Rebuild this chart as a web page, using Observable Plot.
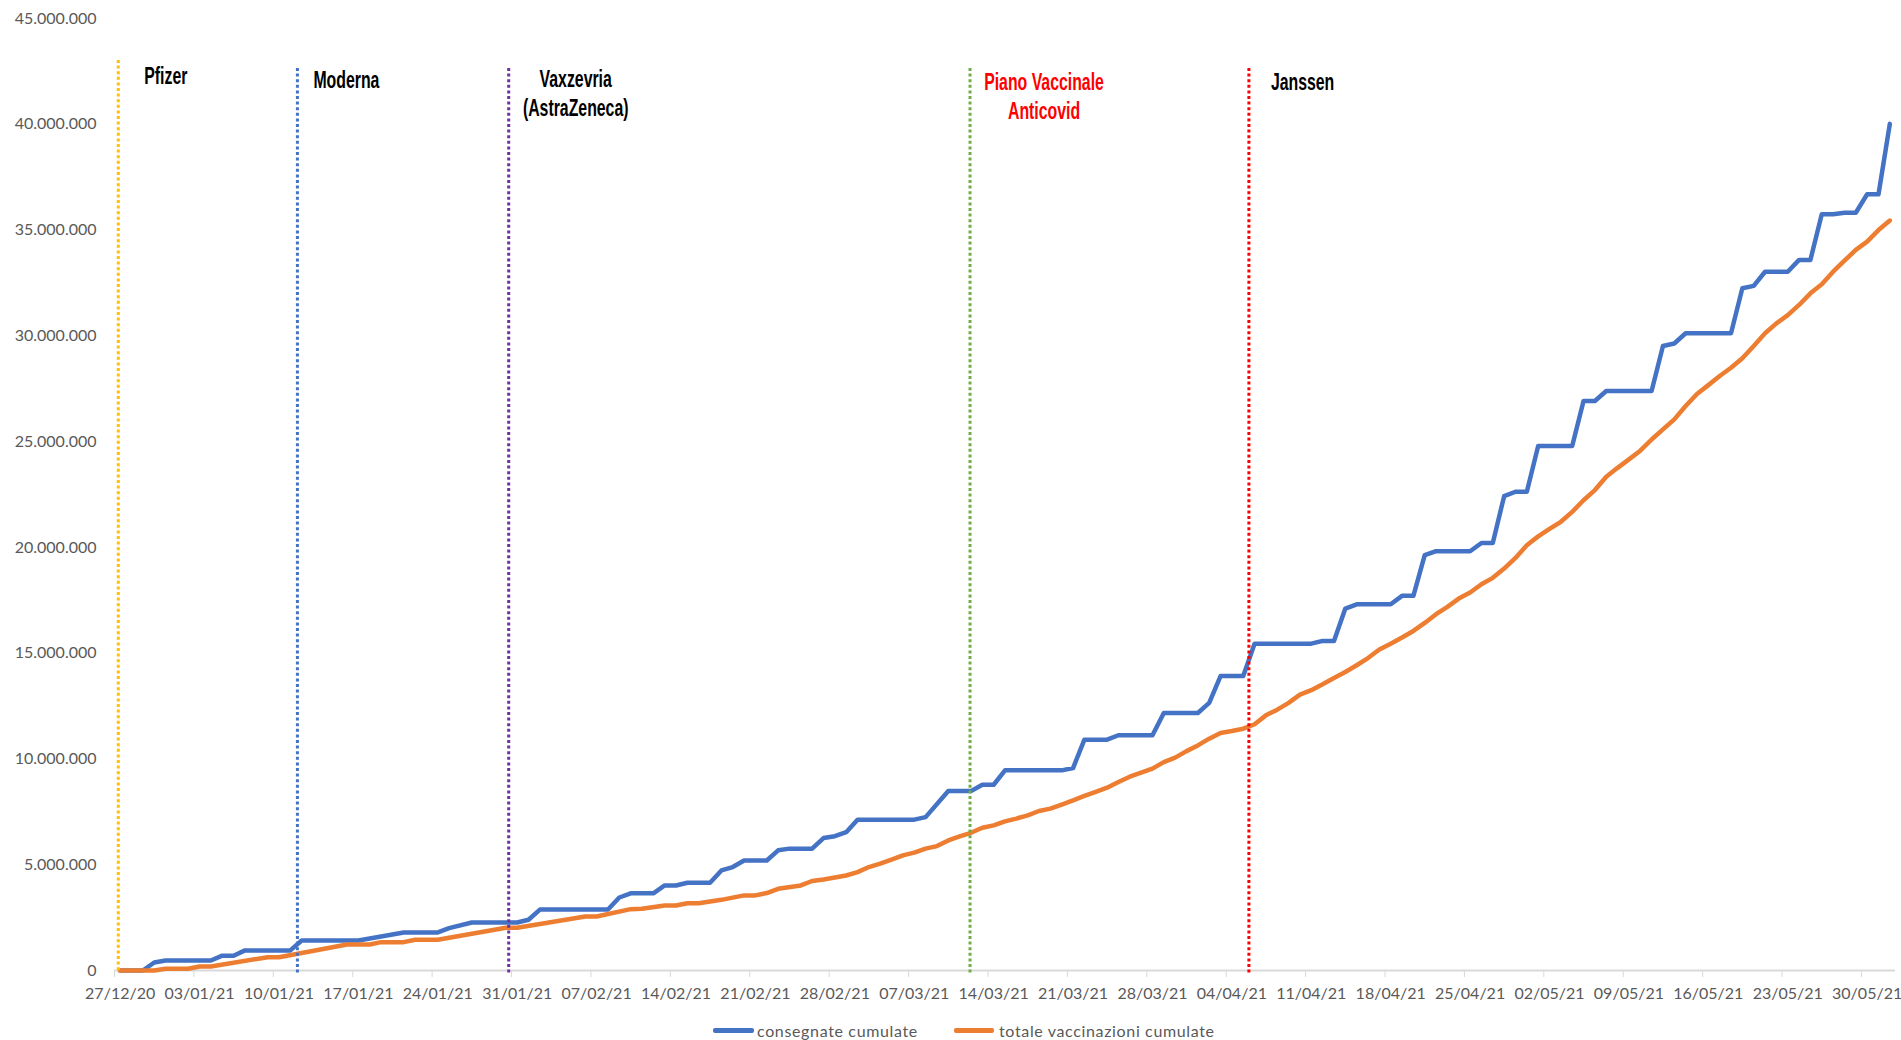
<!DOCTYPE html>
<html>
<head>
<meta charset="utf-8">
<script src="https://cdn.jsdelivr.net/npm/d3@7"></script>
<script src="https://cdn.jsdelivr.net/npm/@observablehq/plot@0.6"></script>
<style>
html, body { margin: 0; padding: 0; background: #fff; }
#chart svg [aria-label^="x-axis"] { color: #D9D9D9; }
.legend { display: flex; align-items: center; height: 20px; margin-top: 8px; padding-left: 713px;
  font-family: Lato, "Open Sans", sans-serif; font-size: 16px; letter-spacing: 0.65px; color: #595959; white-space: nowrap; }
.sw { display: inline-block; height: 5px; border-radius: 2px; }
</style>
</head>
<body>
<div id="chart"></div>
<div class="legend">
  <span class="sw" style="width:41px;background:#4472C4;margin-right:3px"></span><span>consegnate cumulate</span>
  <span class="sw" style="width:40px;background:#ED7D31;margin-left:36px;margin-right:5px"></span><span>totale vaccinazioni cumulate</span>
</div>
<script>
// ---------- DATA ----------
// Consegne cumulate (milioni di dosi)
const delivDates = [
  "27/12/20","29/12/20","30/12/20","31/12/20","04/01/21","05/01/21","06/01/21","07/01/21","11/01/21","12/01/21",
  "17/01/21","21/01/21","24/01/21","25/01/21","27/01/21","31/01/21","01/02/21","02/02/21","08/02/21","09/02/21",
  "10/02/21","12/02/21","13/02/21","14/02/21","15/02/21","17/02/21","18/02/21","19/02/21","20/02/21","22/02/21",
  "23/02/21","24/02/21","26/02/21","27/02/21","28/02/21","01/03/21","02/03/21","07/03/21","08/03/21","10/03/21",
  "12/03/21","13/03/21","14/03/21","15/03/21","20/03/21","21/03/21","22/03/21","24/03/21","25/03/21","28/03/21",
  "29/03/21","01/04/21","02/04/21","03/04/21","05/04/21","06/04/21","11/04/21","12/04/21","13/04/21","14/04/21",
  "15/04/21","18/04/21","19/04/21","20/04/21","21/04/21","22/04/21","25/04/21","26/04/21","27/04/21","28/04/21",
  "29/04/21","30/04/21","01/05/21","04/05/21","05/05/21","06/05/21","07/05/21","11/05/21","12/05/21","13/05/21",
  "14/05/21","18/05/21","19/05/21","20/05/21","21/05/21","23/05/21","24/05/21","25/05/21","26/05/21","27/05/21",
  "28/05/21","29/05/21","30/05/21","31/05/21","01/06/21"
];
const delivValues = [
  0, 0, 0.38, 0.47, 0.47, 0.70, 0.70, 0.95, 0.95, 1.42,
  1.42, 1.80, 1.80, 2.00, 2.27, 2.27, 2.40, 2.88, 2.88, 3.45,
  3.65, 3.65, 4.02, 4.02, 4.15, 4.15, 4.73, 4.89, 5.20, 5.20,
  5.68, 5.76, 5.76, 6.26, 6.35, 6.54, 7.13, 7.13, 7.25, 8.48,
  8.48, 8.78, 8.78, 9.46, 9.46, 9.57, 10.91, 10.91, 11.12, 11.12,
  12.17, 12.17, 12.65, 13.92, 13.92, 15.45, 15.45, 15.58, 15.58, 17.11,
  17.31, 17.31, 17.71, 17.71, 19.63, 19.82, 19.82, 20.21, 20.21, 22.42,
  22.63, 22.63, 24.79, 24.79, 26.92, 26.92, 27.39, 27.39, 29.52, 29.64,
  30.12, 30.12, 32.25, 32.36, 33.03, 33.03, 33.59, 33.59, 35.75, 35.75,
  35.82, 35.82, 36.69, 36.69, 40.02
];

// Totale vaccinazioni cumulate (milioni di dosi)
const vaccDates = [
  "27/12/20","30/12/20","31/12/20","02/01/21","03/01/21","04/01/21","09/01/21","10/01/21","16/01/21","18/01/21",
  "19/01/21","21/01/21","22/01/21","24/01/21","30/01/21","31/01/21","06/02/21","07/02/21","10/02/21","11/02/21",
  "13/02/21","14/02/21","15/02/21","16/02/21","18/02/21","20/02/21","21/02/21","22/02/21","23/02/21","25/02/21",
  "26/02/21","27/02/21","01/03/21",
  "02/03/21","03/03/21","04/03/21","05/03/21","06/03/21","07/03/21","08/03/21","09/03/21","10/03/21","11/03/21",
  "12/03/21","13/03/21","14/03/21","15/03/21","16/03/21","17/03/21","18/03/21","19/03/21","20/03/21","21/03/21",
  "22/03/21","23/03/21","24/03/21","25/03/21","26/03/21","27/03/21","28/03/21","29/03/21","30/03/21","31/03/21",
  "01/04/21","02/04/21","03/04/21","04/04/21","05/04/21","06/04/21","07/04/21","08/04/21","09/04/21","10/04/21",
  "11/04/21","12/04/21","13/04/21","14/04/21","15/04/21","16/04/21","17/04/21","18/04/21","19/04/21","20/04/21",
  "21/04/21","22/04/21","23/04/21","24/04/21","25/04/21","26/04/21","27/04/21","28/04/21","29/04/21","30/04/21",
  "01/05/21","02/05/21","03/05/21","04/05/21","05/05/21","06/05/21","07/05/21","08/05/21","09/05/21","10/05/21",
  "11/05/21","12/05/21","13/05/21","14/05/21","15/05/21","16/05/21","17/05/21","18/05/21","19/05/21","20/05/21",
  "21/05/21","22/05/21","23/05/21","24/05/21","25/05/21","26/05/21","27/05/21","28/05/21","29/05/21","30/05/21",
  "31/05/21","01/06/21"
];
const vaccValues = [
  0, 0, 0.08, 0.08, 0.19, 0.19, 0.63, 0.63, 1.23, 1.23,
  1.34, 1.34, 1.45, 1.45, 2.02, 2.02, 2.55, 2.55, 2.90, 2.92,
  3.07, 3.07, 3.18, 3.18, 3.34, 3.55, 3.55, 3.66, 3.86, 4.02,
  4.23, 4.30, 4.49,
  4.65, 4.89, 5.05, 5.24, 5.44, 5.57, 5.76, 5.88, 6.15, 6.34,
  6.51, 6.75, 6.86, 7.05, 7.18, 7.33, 7.54, 7.65, 7.84, 8.04,
  8.25, 8.44, 8.64, 8.91, 9.16, 9.35, 9.54, 9.85, 10.06, 10.37,
  10.64, 10.96, 11.23, 11.32, 11.43, 11.64, 12.06, 12.33, 12.65, 13.04,
  13.25, 13.53, 13.83, 14.11, 14.43, 14.77, 15.17, 15.45, 15.74, 16.05,
  16.43, 16.84, 17.19, 17.58, 17.87, 18.26, 18.56, 19.00, 19.50, 20.10,
  20.52, 20.87, 21.21, 21.68, 22.23, 22.71, 23.34, 23.76, 24.16, 24.57,
  25.10, 25.58, 26.05, 26.68, 27.25, 27.67, 28.10, 28.49, 28.94, 29.52,
  30.12, 30.59, 30.98, 31.46, 32.01, 32.44, 33.03, 33.55, 34.06, 34.45,
  35.00, 35.45
];

// Eventi (linee verticali)
const markerNames = ["Pfizer", "Moderna", "Vaxzevria\n(AstraZeneca)", "Piano Vaccinale\nAnticovid", "Janssen"];
const markerDates = ["27/12/20 08:00", "12/01/21 03:00", "30/01/21 18:00", "12/03/21 10:00", "06/04/21 00:00"];

// Etichette degli assi
const xTickLabels = ["27/12/20","03/01/21","10/01/21","17/01/21","24/01/21","31/01/21","07/02/21","14/02/21",
  "21/02/21","28/02/21","07/03/21","14/03/21","21/03/21","28/03/21","04/04/21","11/04/21","18/04/21",
  "25/04/21","02/05/21","09/05/21","16/05/21","23/05/21","30/05/21"];
const yTickValues = [0, 5, 10, 15, 20, 25, 30, 35, 40, 45];

// ---------- STYLE ----------
const markerStyle = [
  {color: "#FFC000", insetTop: 42, text: "#000000", anchor: "start",  dx: 26, dy: 45},
  {color: "#4472C4", insetTop: 50, text: "#000000", anchor: "start",  dx: 16, dy: 49.5},
  {color: "#7030A0", insetTop: 50, text: "#000000", anchor: "middle", dx: 67, dy: 48},
  {color: "#70AD47", insetTop: 50, text: "#FF0000", anchor: "middle", dx: 74, dy: 51.5},
  {color: "#FF0000", insetTop: 50, text: "#000000", anchor: "start",  dx: 22, dy: 51.5}
];

// ---------- BUILD ----------
const parseDay = d3.utcParse("%d/%m/%y");
const parseTime = d3.utcParse("%d/%m/%y %H:%M");
const noon = d => d3.utcHour.offset(d, 12);
const dateFmt = d3.utcFormat("%d/%m/%y");
const itFmt = d3.formatLocale({decimal: ",", thousands: ".", grouping: [3], currency: ["€", ""]}).format(",.0f");

const delivTable = delivDates.map((d, i) => ({date: parseDay(d), v: delivValues[i]}));
const vaccTable = vaccDates.map((d, i) => ({date: parseDay(d), v: vaccValues[i]}));
const markers = markerNames.map((n, i) => ({name: n, date: parseTime(markerDates[i])}));
const xTicks = xTickLabels.map(parseDay);

const marks = [
  Plot.ruleY([0], {stroke: "#D9D9D9", strokeWidth: 2}),
  Plot.text(xTicks, {x: d => noon(d), frameAnchor: "bottom", lineAnchor: "top", dy: 17,
    text: d => dateFmt(d), fill: "#595959", fontSize: 16}),
  Plot.line(delivTable, {x: d => noon(d.date), y: "v", stroke: "#4472C4", strokeWidth: 4.5,
    strokeLinejoin: "round", strokeLinecap: "round"}),
  Plot.line(vaccTable, {x: d => noon(d.date), y: "v", stroke: "#ED7D31", strokeWidth: 4.5,
    strokeLinejoin: "round", strokeLinecap: "round"})
];
markers.forEach((m, i) => {
  const s = markerStyle[i];
  marks.push(Plot.ruleX([m], {x: "date", stroke: s.color, strokeWidth: 3, strokeDasharray: "3,2.6",
    insetTop: s.insetTop, insetBottom: -3}));
});
markers.forEach((m, i) => {
  const s = markerStyle[i];
  marks.push(Plot.text([m], {x: "date", text: "name", frameAnchor: "top", lineAnchor: "top",
    textAnchor: s.anchor, dx: s.dx, dy: s.dy, fill: s.text, fontSize: 24, fontWeight: "bold",
    fontFamily: "Liberation Sans, Arial, sans-serif", lineHeight: 1.2}));
});

const chart = Plot.plot({
  width: 1901,
  height: 1012,
  marginLeft: 114,
  marginRight: 6,
  marginTop: 18,
  marginBottom: 42,
  style: {fontFamily: "Lato, 'Open Sans', sans-serif", fontSize: "16px", color: "#595959", background: "#fff", overflow: "visible"},
  x: {type: "utc", domain: [parseDay("27/12/20"), parseDay("02/06/21")], ticks: xTicks,
      tickFormat: () => "", tickSize: 7, label: null},
  y: {domain: [0, 45], ticks: yTickValues, tickFormat: v => itFmt(v * 1e6), tickSize: 0, tickPadding: 18, label: null},
  marks
});
document.getElementById("chart").append(chart);

// condense the annotation font horizontally
const flatNames = markerNames.map(s => s.replace("\n", ""));
chart.querySelectorAll("text").forEach(el => {
  if (flatNames.includes(el.textContent)) {
    const t = el.getAttribute("transform") || "";
    el.setAttribute("transform", t + " scale(0.66,1)");
  }
});
</script>
</body>
</html>
